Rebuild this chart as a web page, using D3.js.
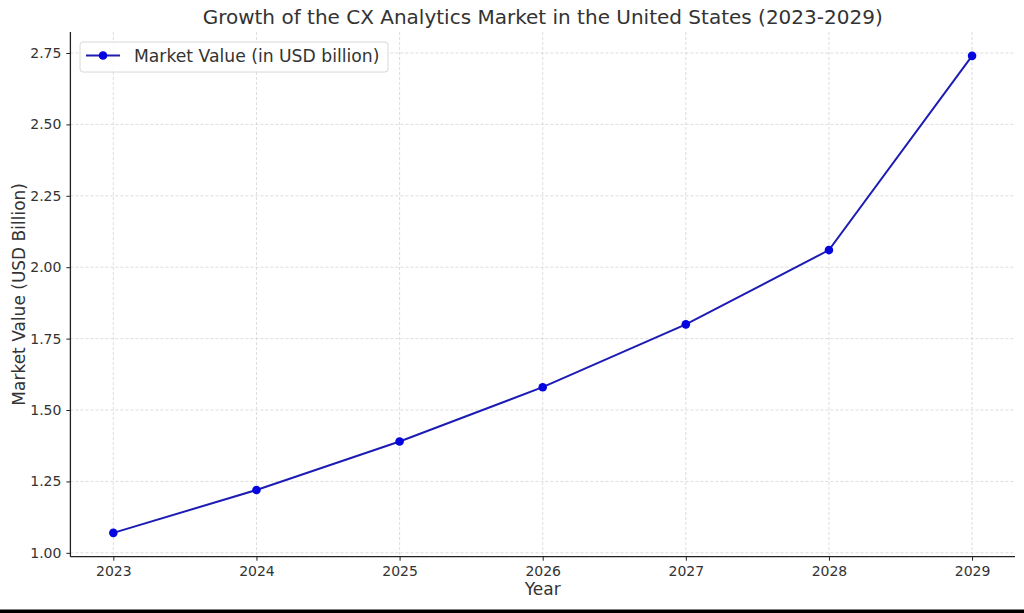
<!DOCTYPE html>
<html>
<head>
<meta charset="utf-8">
<script src="https://cdn.jsdelivr.net/npm/d3@7"></script>
<style>
  html, body { margin: 0; padding: 0; background: #fff; }
  svg { display: block; font-family: "DejaVu Sans", sans-serif; }
</style>
</head>
<body>
<svg id="chart" width="1024" height="613"></svg>
<script>
const years = [2023, 2024, 2025, 2026, 2027, 2028, 2029];
const marketValues = [1.07, 1.22, 1.39, 1.58, 1.80, 2.06, 2.74];
const yTicks = [1.00, 1.25, 1.50, 1.75, 2.00, 2.25, 2.50, 2.75];
const titleText = "Growth of the CX Analytics Market in the United States (2023-2029)";
const seriesLabel = "Market Value (in USD billion)";
const xLabel = "Year";
const yLabel = "Market Value (USD Billion)";

const svg = d3.select("#chart");
const W = 1024, H = 613;
const m = { left: 70.4, right: 1015, top: 32, bottom: 556.7 };

svg.append("rect").attr("x", 0).attr("y", 0).attr("width", W).attr("height", H).attr("fill", "#fff");
// black strip at the bottom of the photo
svg.append("rect").attr("x", 0).attr("y", 609.5).attr("width", W).attr("height", 4).attr("fill", "#000");

const xMin = d3.min(years), xMax = d3.max(years);
const xPad = (xMax - xMin) * 0.05;
const x = d3.scaleLinear().domain([xMin - xPad, xMax + xPad]).range([m.left, m.right]);
const yMin = d3.min(marketValues), yMax = d3.max(marketValues);
const yPad = (yMax - yMin) * 0.05;
const y = d3.scaleLinear().domain([yMin - yPad, yMax + yPad]).range([m.bottom, m.top]);

const textColor = "#333";

// grid
const grid = svg.append("g");
grid.selectAll(".gx").data(years).enter().append("line")
  .attr("x1", d => x(d)).attr("x2", d => x(d))
  .attr("y1", m.top).attr("y2", m.bottom)
  .attr("stroke", "#d4d4d4").attr("stroke-width", 0.8).attr("stroke-dasharray", "3,2");
grid.selectAll(".gy").data(yTicks).enter().append("line")
  .attr("x1", m.left).attr("x2", m.right)
  .attr("y1", d => y(d)).attr("y2", d => y(d))
  .attr("stroke", "#d4d4d4").attr("stroke-width", 0.8).attr("stroke-dasharray", "3,2");

// axes
const xAxis = d3.axisBottom(x).tickValues(years).tickFormat(d3.format("d")).tickSize(4).tickPadding(5);
const yAxis = d3.axisLeft(y).tickValues(yTicks).tickFormat(d3.format(".2f")).tickSize(4).tickPadding(5);

const gx = svg.append("g").attr("transform", `translate(0,${m.bottom})`).call(xAxis);
const gy = svg.append("g").attr("transform", `translate(${m.left},0)`).call(yAxis);
[gx, gy].forEach(g => {
  g.select(".domain").attr("stroke", "#222").attr("stroke-width", 1.3);
  g.selectAll(".tick line").attr("stroke", "#222").attr("stroke-width", 1);
  g.selectAll(".tick text").attr("fill", textColor).style("font-size", "14px").style("font-family", "DejaVu Sans");
});
gx.select(".domain").attr("d", `M${m.left},0H${m.right}`);
gy.select(".domain").attr("d", `M0,${m.bottom}V${m.top}`);

// line
const line = d3.line().x((d, i) => x(years[i])).y(d => y(d));
svg.append("path").datum(marketValues)
  .attr("d", line).attr("fill", "none")
  .attr("stroke", "#1c1cb4").attr("stroke-width", 2);
svg.selectAll(".pt").data(marketValues).enter().append("circle")
  .attr("cx", (d, i) => x(years[i])).attr("cy", d => y(d)).attr("r", 4.3)
  .attr("fill", "#0505e0");

// title
svg.append("text").attr("x", (m.left + m.right) / 2).attr("y", 24)
  .attr("text-anchor", "middle").attr("fill", textColor)
  .style("font-size", "20px").text(titleText);

// axis labels
svg.append("text").attr("x", (m.left + m.right) / 2).attr("y", 595)
  .attr("text-anchor", "middle").attr("fill", textColor)
  .style("font-size", "17px").text(xLabel);
svg.append("text").attr("transform", `translate(24.5,${(m.top + m.bottom) / 2}) rotate(-90)`)
  .attr("text-anchor", "middle").attr("fill", textColor)
  .style("font-size", "17px").text(yLabel);

// legend
const lg = svg.append("g").attr("transform", "translate(80,42)");
lg.append("rect").attr("x", 0).attr("y", 0).attr("width", 308).attr("height", 30).attr("rx", 3)
  .attr("fill", "rgba(255,255,255,0.8)").attr("stroke", "#d8d8d8");
lg.append("line").attr("x1", 6).attr("x2", 40).attr("y1", 13.5).attr("y2", 13.5)
  .attr("stroke", "#1c1cb4").attr("stroke-width", 2);
lg.append("circle").attr("cx", 23).attr("cy", 13.5).attr("r", 4.3).attr("fill", "#0505e0");
lg.append("text").attr("x", 54).attr("y", 20).attr("fill", textColor)
  .style("font-size", "17.2px").text(seriesLabel);
</script>
</body>
</html>
